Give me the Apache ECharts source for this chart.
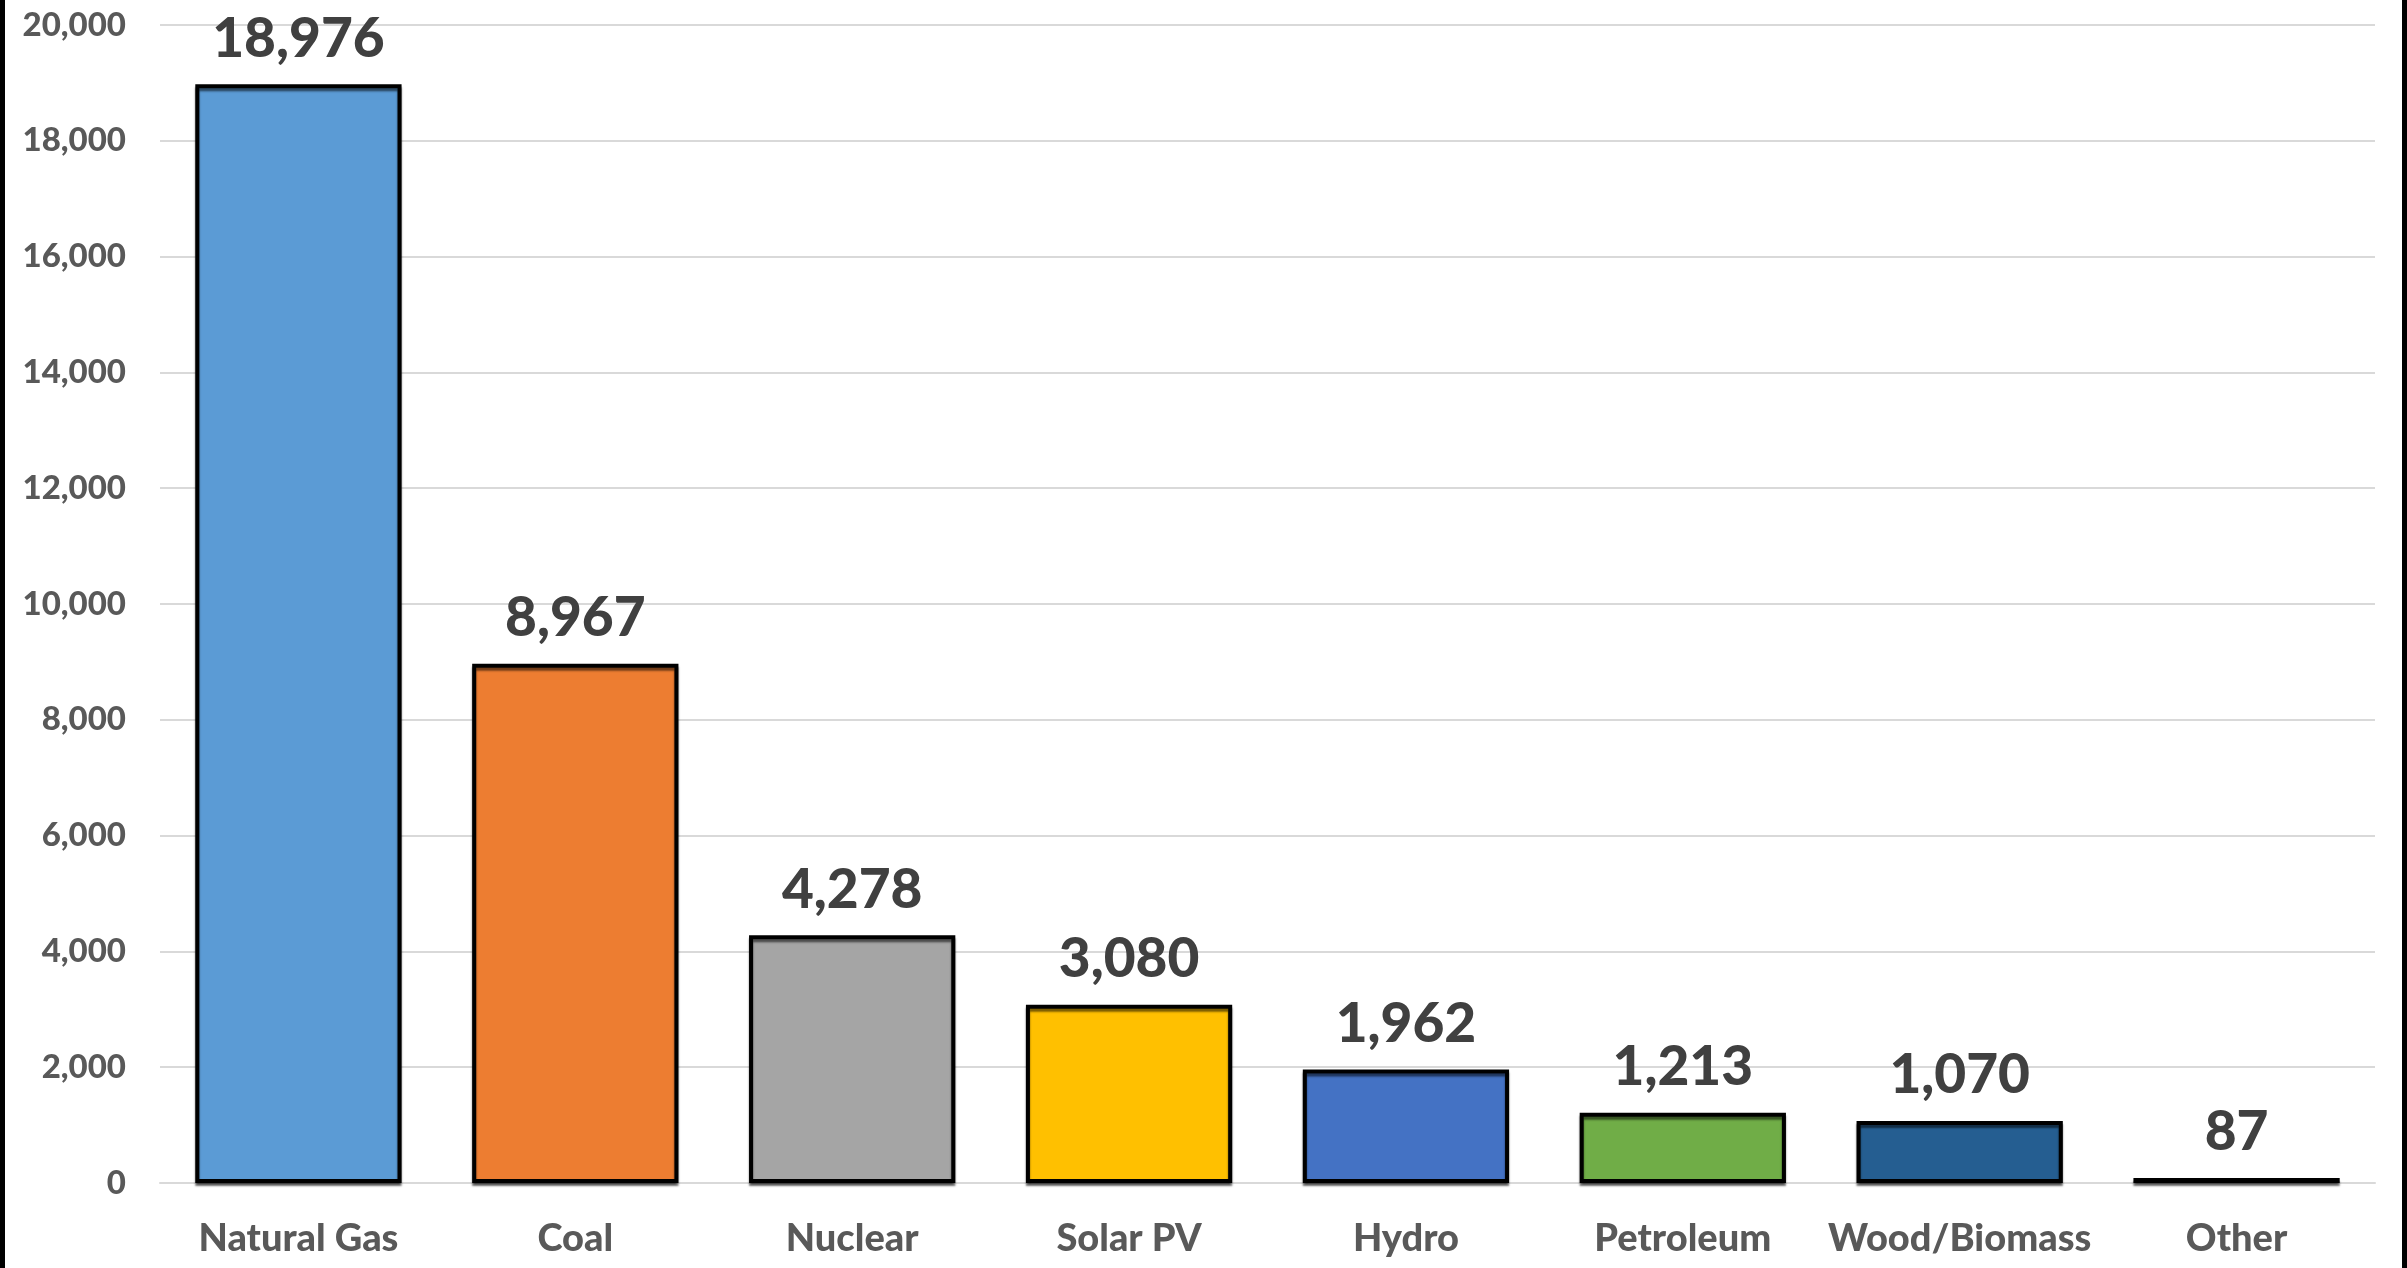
<!DOCTYPE html>
<html>
<head>
<meta charset="utf-8">
<title>Generation by source</title>
<script src="https://cdn.jsdelivr.net/npm/echarts@6/dist/echarts.min.js"></script>
<style>
  html, body { margin: 0; padding: 0; background: #ffffff; }
  #chart { width: 2407px; height: 1268px; }
</style>
</head>
<body>
<div id="chart"></div>
<script>
// Energy sources and their totals
const categories = ['Natural Gas', 'Coal', 'Nuclear', 'Solar PV', 'Hydro', 'Petroleum', 'Wood/Biomass', 'Other'];
const values = [18976, 8967, 4278, 3080, 1962, 1213, 1070, 87];
const barColors = ['#5B9BD5', '#ED7D31', '#A5A5A5', '#FFC000', '#4472C4', '#70AD47', '#255E91', '#9E480E'];
const yTicks = { min: 0, max: 20000, interval: 2000 };

const FONT = 'Lato, "Open Sans", sans-serif';
const fmt = v => v.toLocaleString('en-US');

const chart = echarts.init(document.getElementById('chart'), null, { renderer: 'canvas' });

chart.setOption({
  backgroundColor: '#ffffff',
  animation: false,
  grid: { left: 160, right: 32, top: 25, bottom: 85, containLabel: false },
  xAxis: {
    type: 'category',
    data: categories,
    axisLine: { show: true, lineStyle: { color: '#d9d9d9', width: 2 } },
    axisTick: { show: false },
    axisLabel: {
      interval: 0,
      margin: 37,
      color: '#595959',
      fontFamily: FONT,
      fontWeight: 900,
      fontSize: 38
    }
  },
  yAxis: {
    type: 'value',
    min: yTicks.min,
    max: yTicks.max,
    interval: yTicks.interval,
    axisLine: { show: false },
    axisTick: { show: false },
    splitLine: { lineStyle: { color: '#d9d9d9', width: 2 } },
    axisLabel: {
      margin: 34,
      color: '#595959',
      fontFamily: FONT,
      fontWeight: 900,
      fontSize: 33,
      formatter: fmt
    }
  },
  series: [{
    type: 'bar',
    barCategoryGap: '25.5%',
    data: values.map((v, i) => ({
      value: v,
      itemStyle: { color: barColors[i] }
    })),
    itemStyle: {
      borderColor: '#000000',
      borderWidth: 4,
      shadowColor: 'rgba(0,0,0,0.55)',
      shadowBlur: 2,
      shadowOffsetX: 0,
      shadowOffsetY: 3
    },
    label: {
      show: true,
      position: 'top',
      distance: 18,
      color: '#404040',
      fontFamily: FONT,
      fontWeight: 900,
      fontSize: 55,
      formatter: p => fmt(p.value)
    }
  }],
  graphic: [
    { type: 'rect', left: 0, top: 0, shape: { width: 5, height: 1268 }, style: { fill: '#000000' } },
    { type: 'rect', right: 0, top: 0, shape: { width: 5, height: 1268 }, style: { fill: '#000000' } }
  ]
});
</script>
</body>
</html>
